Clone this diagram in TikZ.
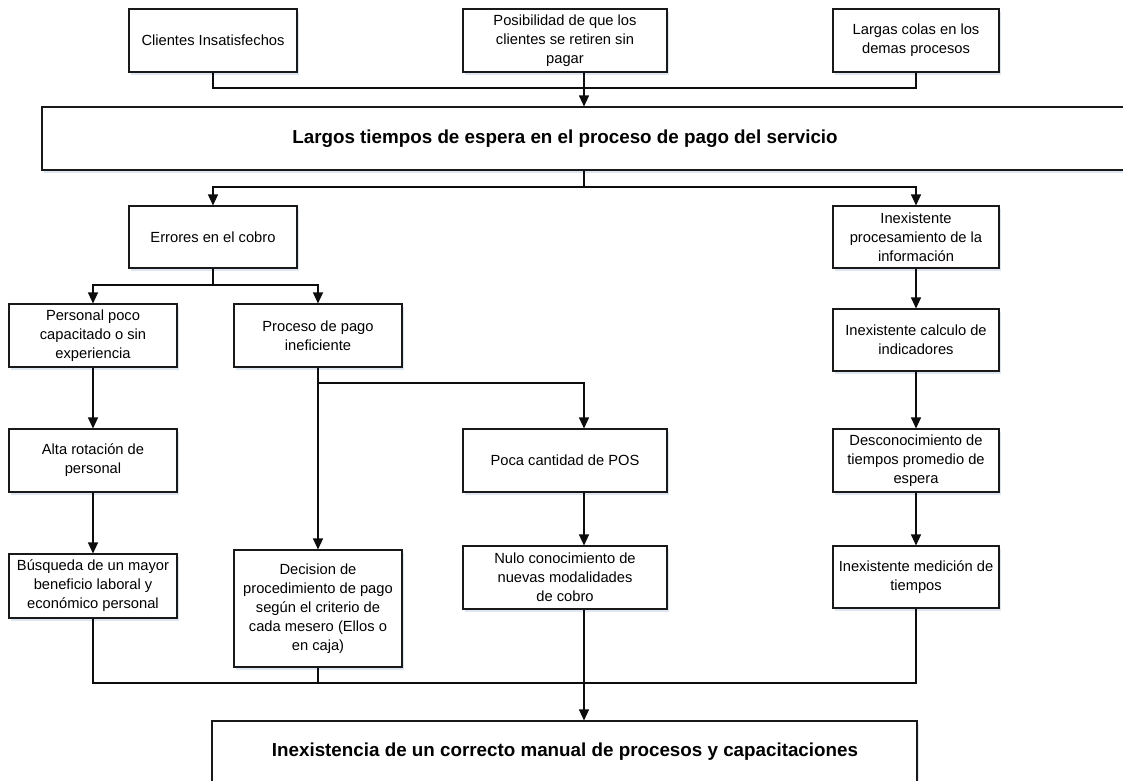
\documentclass[tikz,border=0pt]{standalone}
\usepackage{fontspec}
\setmainfont{Liberation Sans}
\usetikzlibrary{arrows.meta,shadows}

\definecolor{shadowblue}{RGB}{222,230,241}

\tikzset{
  causebox/.style={draw=black!90, line width=1.1pt, fill=white, align=center,
    inner sep=2pt, font=\fontsize{14.7}{19}\selectfont,
    drop shadow={shadow xshift=1.5pt, shadow yshift=-3pt, fill=shadowblue, opacity=1}},
  wide/.style={causebox, minimum width=204pt},
  narrow/.style={causebox, minimum width=168pt},
  link/.style={line width=1.2pt, draw=black!95},
  arr/.style={link, -{Triangle[width=10pt,length=11pt]}},
  title/.style={font=\bfseries\fontsize{18.8}{23}\selectfont}
}

\begin{document}
\begin{tikzpicture}[x=1pt, y=-1pt]
\useasboundingbox (0,0) rectangle (1123,780);
\fill[white] (0,0) rectangle (1123,780);
\clip (0,0) rectangle (1123,780);

% effects
\node[narrow, minimum height=63pt] (c1) at (213,40.5) {Clientes Insatisfechos};
\node[wide, minimum height=63pt] (c2) at (565,40.5) {Posibilidad de que los\\clientes se retiren sin\\pagar};
\node[narrow, minimum width=166pt, minimum height=63pt] (c3) at (916,40.5) {Largas colas en los\\demas procesos};

% central problem
\node[causebox, minimum width=1088pt, minimum height=63pt] (main) at (586,138.5) {};
\node[title] (maintext) at (565,138.5) {Largos tiempos de espera en el proceso de pago del servicio};

% causes, left branch
\node[narrow, minimum height=62pt] (e1) at (213,237) {Errores en el cobro};
\node[narrow, minimum height=63pt] (e2) at (93,335.5) {Personal poco\\capacitado o sin\\experiencia};
\node[narrow, minimum height=63pt] (e3) at (318,335.5) {Proceso de pago\\ineficiente};
\node[narrow, minimum height=63pt] (e4) at (93,460.5) {Alta rotación de\\personal};
\node[narrow, minimum height=64pt] (e5) at (93,586) {Búsqueda de un mayor\\beneficio laboral y\\económico personal};
\node[narrow, minimum height=117pt] (d1) at (318,608.5) {Decision de\\procedimiento de pago\\según el criterio de\\cada mesero (Ellos o\\en caja)};
\node[wide, minimum height=63pt] (p1) at (565,460.5) {Poca cantidad de POS};
\node[wide, minimum height=63pt] (p2) at (565,577.5) {Nulo conocimiento de\\nuevas modalidades\\de cobro};

% causes, right branch
\node[narrow, minimum width=166pt, minimum height=62pt] (r1) at (916,237) {Inexistente\\procesamiento de la\\información};
\node[narrow, minimum width=166pt, minimum height=62pt] (r2) at (916,340) {Inexistente calculo de\\indicadores};
\node[narrow, minimum width=166pt, minimum height=63pt] (r3) at (916,460.5) {Desconocimiento de\\tiempos promedio de\\espera};
\node[narrow, minimum width=166pt, minimum height=62pt] (r4) at (916,577) {Inexistente medición de\\tiempos};

% root cause
\node[causebox, minimum width=705pt, minimum height=62pt] (bot) at (564.5,752) {};
\node[title] (bottext) at (565,752) {Inexistencia de un correcto manual de procesos y capacitaciones};

% junction points
\coordinate (j1) at (584,88);
\coordinate (j2) at (584,187);
\coordinate (j3) at (213,285);
\coordinate (j4) at (318,383);
\coordinate (j5) at (584,683);

% effects into the central problem
\draw[link] (c1.south) |- (j1) -| (c3.south);
\draw[arr] (c2.south -| j1) -- (main.north -| j1);

% central problem into the two branches
\draw[link] (main.south -| j2) -- (j2);
\draw[arr] (j2) -| (e1.north);
\draw[arr] (j2) -| (r1.north);

% left branch
\draw[link] (e1.south) -- (j3);
\draw[arr] (j3) -| (e2.north);
\draw[arr] (j3) -| (e3.north);
\draw[arr] (e2) -- (e4);
\draw[arr] (e4) -- (e5);
\draw[arr] (e3.south) -- (d1.north);
\draw[arr] (j4) -| (p1.north -| j1);
\draw[arr] (p1.south -| j1) -- (p2.north -| j1);

% right branch
\draw[arr] (r1) -- (r2);
\draw[arr] (r2) -- (r3);
\draw[arr] (r3) -- (r4);

% everything into the root cause
\draw[link] (e5.south) |- (j5);
\draw[link] (d1.south) |- (j5);
\draw[link] (r4.south) |- (j5);
\draw[arr] (p2.south -| j5) -- (bot.north -| j5);
\end{tikzpicture}
\end{document}
